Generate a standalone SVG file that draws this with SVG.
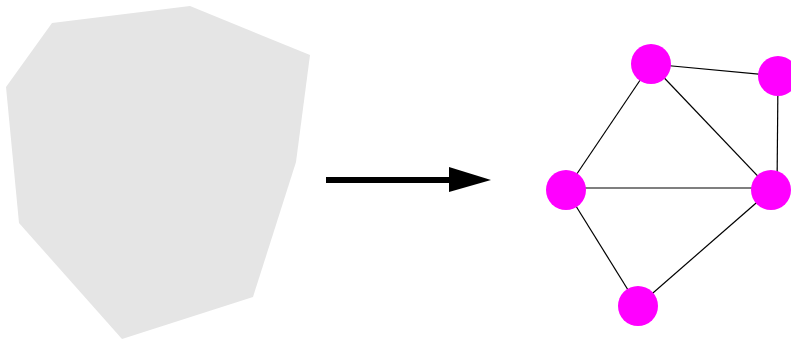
<svg xmlns="http://www.w3.org/2000/svg" width="791" height="339" viewBox="0 0 791 339">
<style>
.edge{stroke:#000;stroke-width:1.2;fill:none}
.node{fill:#ff00ff}
</style>
<rect width="791" height="339" fill="#fff"/>
<g id="region">
<polygon points="52,23 190,6 310,55 296,162 253,297 122,339 19,223 6,87" fill="#e5e5e5"/>
</g>
<g id="arrow">
<rect x="326" y="177" width="126" height="6" fill="#000"/>
<polygon points="449,167 491,180 449,192" fill="#000"/>
</g>
<g id="connectors">
<line class="edge" x1="651" y1="64" x2="778" y2="76"/>
<line class="edge" x1="651" y1="64" x2="566" y2="190"/>
<line class="edge" x1="651" y1="64" x2="771" y2="190"/>
<line class="edge" x1="778" y1="76" x2="777" y2="190"/>
<line class="edge" x1="566" y1="188" x2="771" y2="188"/>
<line class="edge" x1="566" y1="190" x2="638" y2="306"/>
<line class="edge" x1="771" y1="190" x2="638" y2="306"/>
</g>
<g id="n1"><circle class="node" cx="651" cy="64" r="20"/></g>
<g id="n2"><circle class="node" cx="778" cy="76" r="20"/></g>
<g id="n3"><circle class="node" cx="566" cy="190" r="20"/></g>
<g id="n4"><circle class="node" cx="771" cy="190" r="20"/></g>
<g id="n5"><circle class="node" cx="638" cy="306" r="20"/></g>
</svg>
